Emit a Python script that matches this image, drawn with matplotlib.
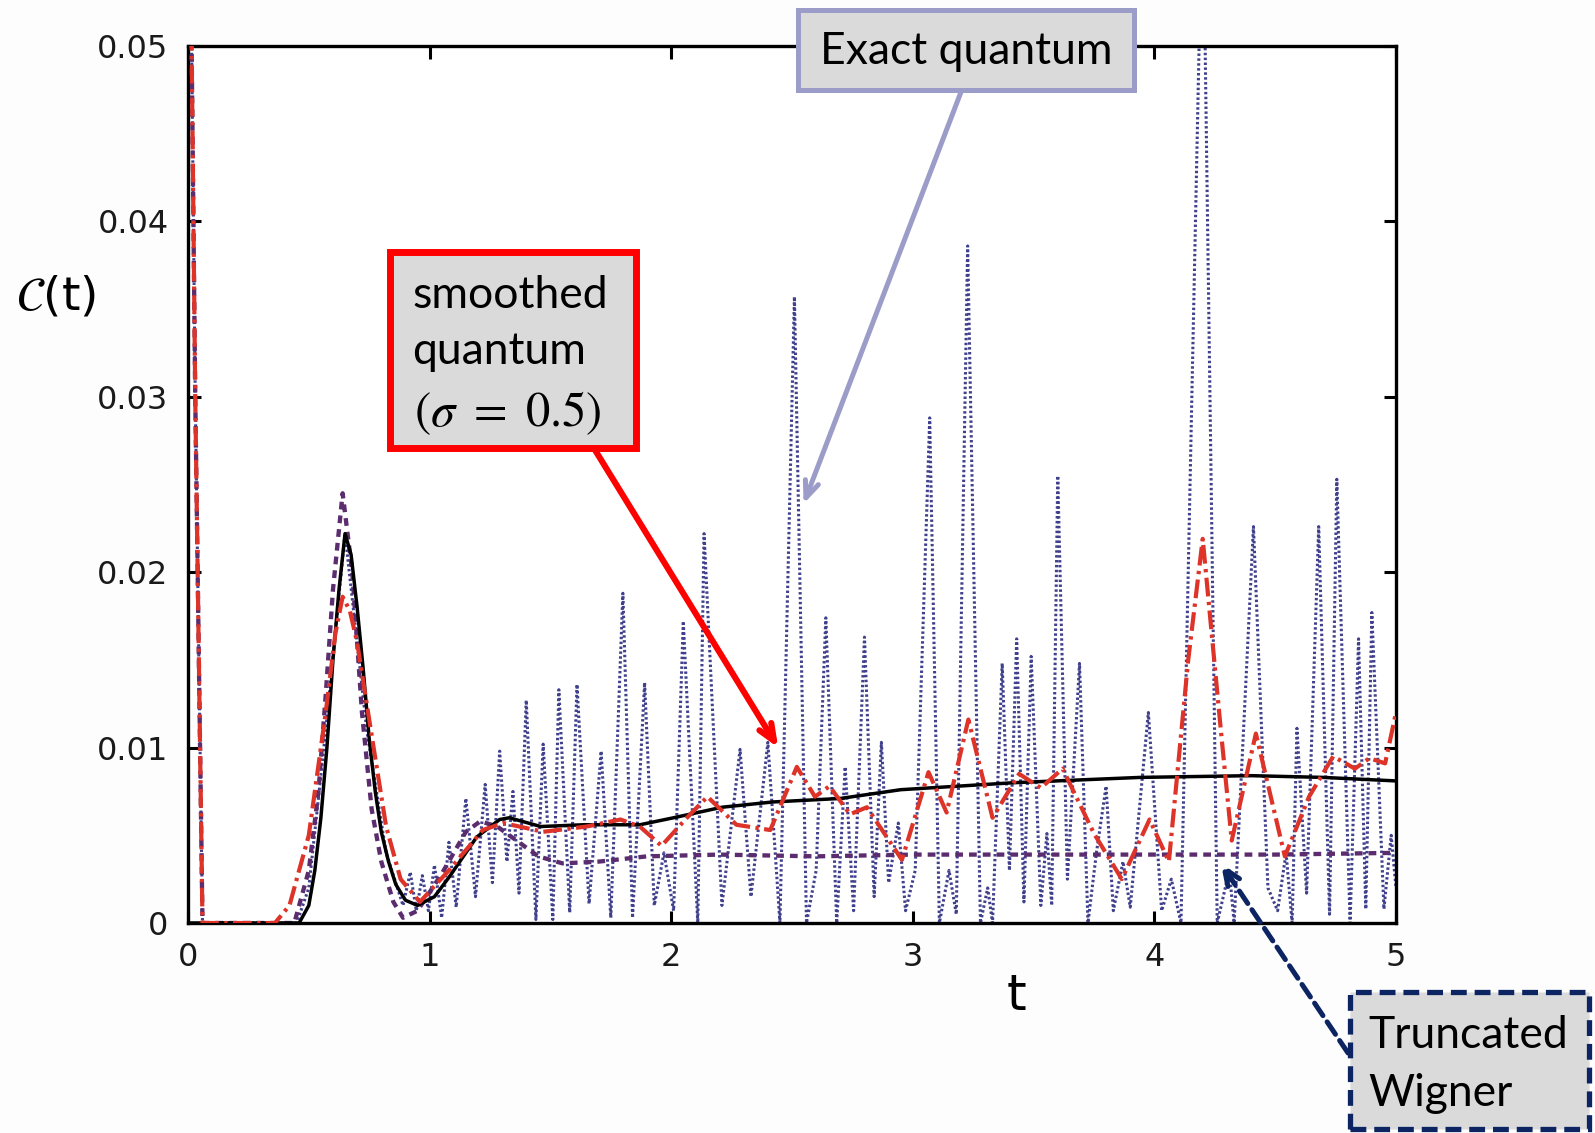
import matplotlib
matplotlib.use("Agg")
import matplotlib.pyplot as plt
from matplotlib.patches import Rectangle

plt.rcParams["mathtext.fontset"] = "stix"

# ---- data (t, C(t)) ----
exact_t = [0.0, 0.03, 0.06, 0.45, 0.50, 0.57, 0.65, 0.74, 0.82, 0.89,
           0.92, 0.945, 0.97, 0.995, 1.02, 1.05, 1.08, 1.11, 1.15, 1.19,
           1.23, 1.26, 1.29, 1.32, 1.345, 1.37, 1.40, 1.44, 1.47, 1.51,
           1.535, 1.58, 1.61, 1.66, 1.71, 1.75, 1.80, 1.84, 1.89, 1.93,
           1.97, 2.01, 2.05, 2.11, 2.136, 2.21, 2.285, 2.33, 2.40, 2.45,
           2.51, 2.56, 2.60, 2.64, 2.685, 2.72, 2.755, 2.80, 2.84, 2.87,
           2.90, 2.94, 2.97, 3.01, 3.07, 3.11, 3.15, 3.18, 3.227, 3.28,
           3.31, 3.33, 3.37, 3.40, 3.43, 3.46, 3.49, 3.53, 3.555, 3.575,
           3.60, 3.64, 3.69, 3.725, 3.76, 3.80, 3.83, 3.87, 3.90, 3.975,
           4.03, 4.07, 4.11, 4.20, 4.26, 4.31, 4.33, 4.41, 4.47, 4.51,
           4.545, 4.57, 4.59, 4.63, 4.68, 4.725, 4.755, 4.81, 4.845, 4.875,
           4.90, 4.95, 4.98, 5.0]
exact_c = [0.07, 0.03, 0.0, 0.0, 0.002, 0.011, 0.0222, 0.011, 0.004, 0.001,
           0.0029, 0.0007, 0.0027, 0.0007, 0.0033, 0.0003, 0.0046, 0.0009, 0.0071, 0.0015,
           0.0079, 0.0023, 0.0098, 0.0035, 0.0075, 0.0017, 0.0127, 0.0002, 0.0102, 0.0002,
           0.0133, 0.0006, 0.0136, 0.0011, 0.0098, 0.0003, 0.0188, 0.0003, 0.0137, 0.001,
           0.004, 0.0007, 0.0172, 0.0, 0.0222, 0.001, 0.0099, 0.0015, 0.0103, 0.0,
           0.0357, 0.0, 0.003, 0.0174, 0.0, 0.0089, 0.0007, 0.0163, 0.0015, 0.0103,
           0.0023, 0.0057, 0.0007, 0.003, 0.0288, 0.0, 0.003, 0.0005, 0.0386, 0.0,
           0.002, 0.0, 0.0148, 0.003, 0.0162, 0.0012, 0.0152, 0.001, 0.0051, 0.001,
           0.0255, 0.0025, 0.0148, 0.0, 0.004, 0.0078, 0.0007, 0.0035, 0.0009, 0.012,
           0.0007, 0.0025, 0.0, 0.06, 0.0, 0.003, 0.0, 0.0226, 0.002, 0.0007,
           0.004, 0.0, 0.0111, 0.0017, 0.0226, 0.0005, 0.0253, 0.0, 0.0162, 0.0008,
           0.0177, 0.0008, 0.005, 0.002]

wigner_t = [0.0, 0.03, 0.06, 0.44, 0.50, 0.54, 0.57, 0.60, 0.64, 0.68,
            0.72, 0.76, 0.80, 0.85, 0.89, 0.95, 1.05, 1.15, 1.21, 1.28,
            1.36, 1.45, 1.55, 1.70, 1.90, 2.20, 2.60, 3.00, 3.50, 4.00,
            4.50, 5.0]
wigner_c = [0.07, 0.03, 0.0, 0.0, 0.003, 0.0075, 0.013, 0.019, 0.0245, 0.020,
            0.012, 0.0065, 0.0035, 0.0012, 0.0003, 0.0007, 0.0028, 0.0052, 0.0058, 0.0055,
            0.0047, 0.0038, 0.0034, 0.0035, 0.0038, 0.0039, 0.0038, 0.0039, 0.0039, 0.0039,
            0.0039, 0.0040]

full_t = [0.0, 0.46, 0.50, 0.525, 0.55, 0.575, 0.60, 0.625, 0.65, 0.675,
          0.70, 0.725, 0.75, 0.775, 0.80, 0.83, 0.86, 0.90, 0.95, 1.02,
          1.08, 1.195, 1.29, 1.33, 1.46, 1.635, 1.87, 2.01, 2.21, 2.42,
          2.70, 2.95, 3.42, 3.94, 4.40, 4.70, 5.0]
full_c = [0.0, 0.0, 0.001, 0.003, 0.006, 0.010, 0.015, 0.019, 0.0222, 0.021,
          0.018, 0.0145, 0.0105, 0.0075, 0.0052, 0.0035, 0.0022, 0.0013, 0.001, 0.0015,
          0.0026, 0.0049, 0.0059, 0.006, 0.0055, 0.0056, 0.0056, 0.006, 0.0066, 0.0069,
          0.0071, 0.0076, 0.008, 0.0083, 0.0084, 0.0083, 0.0081]

smooth_t = [0.0, 0.03, 0.06, 0.36, 0.42, 0.50, 0.57, 0.61, 0.64, 0.67,
            0.70, 0.75, 0.82, 0.88, 0.96, 1.08, 1.22, 1.305, 1.47, 1.65,
            1.79, 1.87, 1.96, 2.065, 2.15, 2.27, 2.41, 2.52, 2.595, 2.655,
            2.74, 2.81, 2.955, 3.065, 3.14, 3.23, 3.33, 3.44, 3.53, 3.62,
            3.75, 3.865, 3.98, 4.06, 4.14, 4.20, 4.275, 4.32, 4.42, 4.54,
            4.64, 4.74, 4.83, 4.89, 4.955, 5.0]
smooth_c = [0.07, 0.03, 0.0, 0.0, 0.001, 0.005, 0.012, 0.0165, 0.0186, 0.0178,
            0.016, 0.0116, 0.0055, 0.0025, 0.0012, 0.003, 0.0053, 0.0057, 0.0052, 0.0055,
            0.0059, 0.0055, 0.0044, 0.006, 0.0072, 0.0056, 0.0053, 0.0089, 0.0072, 0.0078,
            0.0062, 0.0066, 0.0036, 0.0086, 0.0063, 0.0116, 0.006, 0.0085, 0.0077, 0.0088,
            0.0051, 0.0025, 0.0059, 0.0035, 0.015, 0.0219, 0.011, 0.0047, 0.0108, 0.0038,
            0.0072, 0.0095, 0.0088, 0.0094, 0.0091, 0.012]

x_ticks = [0, 1, 2, 3, 4, 5]
y_ticks = [0, 0.01, 0.02, 0.03, 0.04, 0.05]
y_tick_labels = ["0", "0.01", "0.02", "0.03", "0.04", "0.05"]

W, H = 1595, 1133


def fx(px):
    return px / W


def fy(py):
    return 1 - py / H


fig = plt.figure(figsize=(W / 100, H / 100), dpi=100)
fig.patch.set_facecolor("#fdfdfd")
ax = fig.add_axes([fx(188), fy(923), fx(1396) - fx(188), fy(46) - fy(923)])
ax.set_facecolor("white")

ax.plot(exact_t, exact_c, color="#40408c", lw=2.2, linestyle=(0, (0.8, 0.8)), zorder=2)
ax.plot(wigner_t, wigner_c, color="#5b2d6e", lw=3.1, linestyle=(0, (1.8, 1.4)), zorder=3)
ax.plot(full_t, full_c, color="black", lw=2.5, zorder=4)
ax.plot(smooth_t, smooth_c, color="#dd3328", lw=3.0,
        linestyle=(0, (4.5, 1.3, 0.8, 1.3)), zorder=5)

ax.set_xlim(0, 5)
ax.set_ylim(0, 0.05)
ax.set_xticks(x_ticks)
ax.set_yticks(y_ticks)
ax.set_yticklabels(y_tick_labels)
ax.tick_params(direction="in", length=9, width=2.2, top=True, right=True,
               labelsize=23, pad=14, labelcolor="#1a1a1a")
for lab in ax.get_xticklabels() + ax.get_yticklabels():
    lab.set_fontfamily("DejaVu Sans")
for spine in ax.spines.values():
    spine.set_linewidth(2.4)

fig.text(fx(1017), fy(996), "t", fontsize=36, family="DejaVu Sans",
         ha="center", va="center")
fig.text(fx(56), fy(297), r"$\mathcal{C}$(t)", fontsize=34, family="DejaVu Sans",
         ha="center", va="center")

box_font = "Lato"
box_size = 32

# Exact quantum box
fig.patches.append(Rectangle((fx(798), fy(90)), fx(1134) - fx(798), fy(10) - fy(90),
                             transform=fig.transFigure, facecolor="#dadada",
                             edgecolor="#9c9cc8", lw=3.6, zorder=10))
fig.text(fx(966), fy(52), "Exact quantum", fontsize=box_size, family=box_font,
         ha="center", va="center", zorder=11)
ax.annotate("", xy=(2.548, 0.0239), xytext=(fx(961), fy(92)),
            textcoords="figure fraction",
            arrowprops=dict(arrowstyle="->,head_length=1.2,head_width=0.5",
                            color="#9c9cc8", lw=3.6, shrinkA=0, shrinkB=0),
            zorder=9)

# smoothed quantum box
fig.patches.append(Rectangle((fx(390), fy(448)), fx(636) - fx(390), fy(252) - fy(448),
                             transform=fig.transFigure, facecolor="#dadada",
                             edgecolor="#ff0000", lw=5, zorder=10))
fig.text(fx(412), fy(295), "smoothed", fontsize=box_size, family=box_font,
         ha="left", va="center", zorder=11)
fig.text(fx(412), fy(352), "quantum", fontsize=box_size, family=box_font,
         ha="left", va="center", zorder=11)
fig.text(fx(414), fy(413), r"$(\sigma\ =\ 0.5)$", fontsize=35, family=box_font,
         ha="left", va="center", zorder=11)
ax.annotate("", xy=(2.443, 0.0100), xytext=(fx(595), fy(450)),
            textcoords="figure fraction",
            arrowprops=dict(arrowstyle="->,head_length=1.2,head_width=0.5",
                            color="#ff0000", lw=4.4, shrinkA=0, shrinkB=0),
            zorder=9)

# Truncated Wigner box
fig.patches.append(Rectangle((fx(1350), fy(1129)), fx(1589) - fx(1350), fy(992) - fy(1129),
                             transform=fig.transFigure, facecolor="#dadada",
                             edgecolor="#0c2461", lw=3.8, linestyle=(0, (3, 1.5)),
                             zorder=10))
fig.text(fx(1368), fy(1035), "Truncated", fontsize=box_size, family=box_font,
         ha="left", va="center", zorder=11)
fig.text(fx(1368), fy(1093), "Wigner", fontsize=box_size, family=box_font,
         ha="left", va="center", zorder=11)
ax.annotate("", xy=(4.275, 0.0034), xytext=(fx(1348), fy(1053)),
            textcoords="figure fraction",
            arrowprops=dict(arrowstyle="->,head_length=1.2,head_width=0.5",
                            color="#0c2461", lw=3.6, linestyle=(0, (3, 1.5)),
                            shrinkA=0, shrinkB=0),
            zorder=9)

fig.savefig("out.png", dpi=100)
